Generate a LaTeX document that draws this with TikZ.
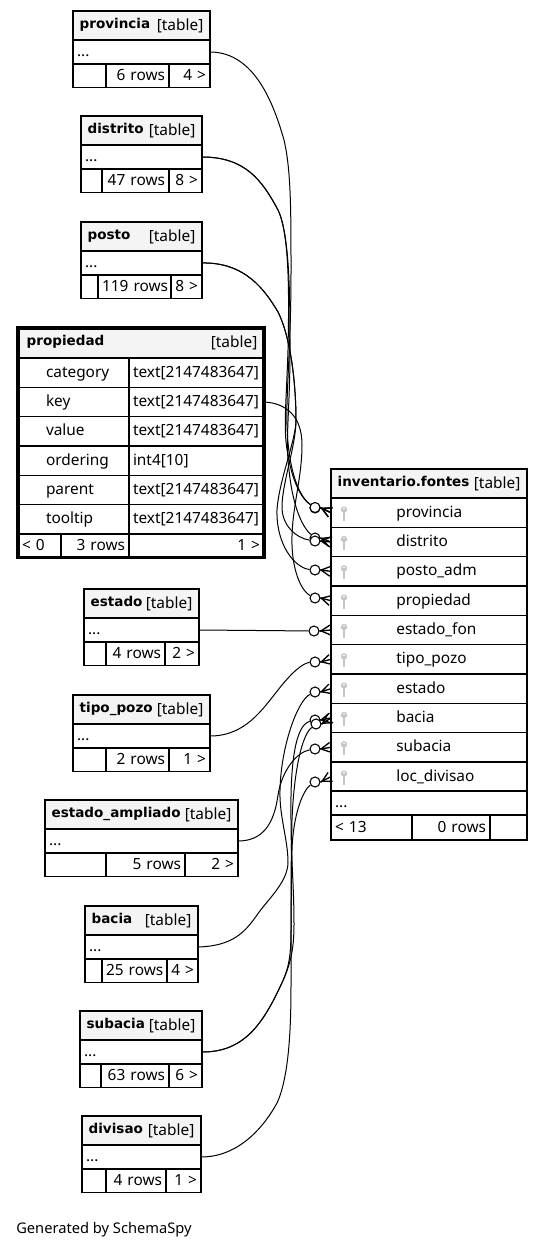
\documentclass[tikz,border=0pt]{standalone}
\usepackage{fontspec}
\setmainfont{Noto Sans}
\newfontfamily\titlefont{DejaVu Sans}
\usetikzlibrary{arrows.meta, positioning}
\definecolor{headfill}{HTML}{F4F4F4}
\definecolor{keygray}{HTML}{C6C6C6}

\begin{document}
\begin{tikzpicture}[
x=0.75pt, y=-0.75pt,
every node/.style={font=\fontsize{11.55}{13}\selectfont},
cell/.style={draw, line width=0.9pt, inner xsep=3pt, inner ysep=0pt, outer sep=0pt, text height=8.5pt, text depth=1.5pt, align=left},
rcell/.style={cell, align=right},
head/.style={cell, fill=headfill, inner xsep=5pt, minimum height=21.75pt},
row/.style={cell, minimum height=18pt},
field/.style={cell, minimum height=22pt},
foot/.style={cell, minimum height=17.75pt},
rfoot/.style={rcell, minimum height=17.75pt},
link/.style={line width=0.75pt},
crow/.style={line width=1pt, -{Straight Barb[reversed, length=7pt, width=7.5pt, line width=1pt]}},
odot/.style={circle, draw, line width=0.8pt, fill=white, inner sep=0pt, minimum size=7.5pt}
]

\useasboundingbox (0,0) rectangle (544,1248);

% small tables
\foreach \tb/\tname/\xa/\xb/\xc/\xd/\ya/\nrows/\nout in {
provincia/provincia/73/106/169/210/11/6/4,
distrito/distrito/81/102/169/202/116/47/8,
posto/posto/81/98/171/202/222/119/8,
estado/estado/84/106/165/199/589/4/2,
tipopozo/tipo\_pozo/73/106/169/210/695/2/1,
ampliado/estado\_ampliado/45/106/185/238/800/5/2,
bacia/bacia/85/102/167/198/906/25/4,
subacia/subacia/80/101/169/202/1011/63/6,
divisao/divisao/82/106/166/201/1116/4/1}
{
\pgfmathsetmacro\wh{(\xd-\xa)*0.75-10}
\pgfmathsetmacro\wr{(\xd-\xa)*0.75-6}
\pgfmathsetmacro\wa{(\xb-\xa)*0.75-6}
\pgfmathsetmacro\wb{(\xc-\xb)*0.75-6}
\pgfmathsetmacro\wc{(\xd-\xc)*0.75-6}
\node[head, text width=\wh pt, anchor=north west] (\tb) at (\xa,\ya)
{\raisebox{1.5pt}{\fontsize{10.15}{12}\titlefont\bfseries\tname}\hfill[table]};
\node[row, text width=\wr pt, below=0pt of \tb] (\tb-row) {...};
\node[foot, text width=\wa pt, anchor=north west] (\tb-a) at (\tb-row.south west) {};
\node[rfoot, text width=\wb pt, right=0pt of \tb-a] (\tb-b) {\mbox{\nrows{} rows}};
\node[rfoot, text width=\wc pt, right=0pt of \tb-b] (\tb-c) {\mbox{\nout{} >}};
}

% propiedad
\node[head, minimum height=22.5pt, text width=174.5pt, anchor=north west] (propiedad) at (18,328)
{\hspace*{1.5pt}\raisebox{1.5pt}{\fontsize{10.15}{12}\titlefont\bfseries propiedad}\hfill[table]};
\foreach \fld/\typ [count=\i] in {category/text[2147483647], key/text[2147483647], value/text[2147483647], ordering/int4[10], parent/text[2147483647], tooltip/text[2147483647]}
{
\node[field, text width=77.25pt, anchor=north west] (prop-\fld) at ({18},{358+(\i-1)*29.33}) {\hspace*{18pt}\fld};
\node[field, text width=95.25pt, right=0pt of prop-\fld] (type-\fld) {\typ};
}
\node[foot, text width=26.25pt, anchor=north west] (prop-a) at (prop-tooltip.south west) {< 0};
\node[rfoot, text width=45pt, right=0pt of prop-a] (prop-b) {3 rows};
\node[rfoot, text width=95.25pt, right=0pt of prop-b] (prop-c) {1 >};
\draw[line width=2.3pt] (propiedad.north west) rectangle (prop-c.south east);

% inventario.fontes
\node[head, text width=137pt, anchor=north west] (fontes) at (331,469)
{\raisebox{1.5pt}{\fontsize{10.15}{12}\titlefont\bfseries inventario.fontes}\hfill[table]};
\foreach \fld/\lab [count=\i] in {provincia/provincia, distrito/distrito, posto/posto\_adm, propiedad/propiedad, estadofon/estado\_fon, tipopozo/tipo\_pozo, estado/estado, bacia/bacia, subacia/subacia, divisao/loc\_divisao}
{
\node[field, text width=141pt, anchor=north west] (inv-\fld) at ({331},{498+(\i-1)*29.33}) {\hspace*{46pt}\lab};
\fill[keygray] ([xshift=9.75pt, yshift=2.25pt]inv-\fld.west) circle (2.4pt);
\fill[white] ([xshift=9.75pt, yshift=3pt]inv-\fld.west) circle (0.7pt);
\draw[keygray, line width=1.5pt] ([xshift=9.75pt, yshift=1pt]inv-\fld.west) -- ([xshift=9.75pt, yshift=-6pt]inv-\fld.west);
}
\node[row, text width=141pt, anchor=north west] (inv-row) at (331,791) {...};
\node[foot, text width=54.75pt, minimum height=18.75pt, anchor=north west] (inv-a) at (inv-row.south west) {< 13};
\node[rfoot, text width=52.5pt, minimum height=18.75pt, right=0pt of inv-a] (inv-b) {0 rows};
\node[foot, text width=21.75pt, minimum height=18.75pt, right=0pt of inv-b] (inv-c) {};

% circles
\node[odot] (o-prov) at (315,508) {};
\node[odot] (o-prov2) at (315,507.5) {};
\node[odot] (o-dist) at (315,538) {};
\node[odot] (o-dist2) at (315,541) {};
\node[odot] (o-posto) at (315,570) {};
\node[odot] (o-prop) at (315,598) {};
\node[odot] (o-estfon) at (314,631) {};
\node[odot] (o-tipo) at (315,662) {};
\node[odot] (o-est) at (315,692) {};
\node[odot] (o-bacia) at (315,720) {};
\node[odot] (o-bacia2) at (316,724) {};
\node[odot] (o-sub) at (315,749) {};
\node[odot] (o-div) at (315,782) {};

% links
\draw[link] (provincia-row.east) .. controls (255,52) and (274,105) .. (284,140) .. controls (291,170) and (291,210) .. (291,270) .. controls (291,350) and (286,390) .. (287,425) .. controls (288,465) and (297,495) .. (o-prov);
\draw[link] (distrito-row.east) .. controls (245,157) and (262,180) .. (278,210) .. controls (290,235) and (289,300) .. (288,350) .. controls (286,410) and (283,430) .. (288,455) .. controls (293,485) and (303,500) .. (o-prov2);
\draw[link] (distrito-row.east) .. controls (245,157) and (262,180) .. (278,210) .. controls (290,235) and (290,300) .. (290,350) .. controls (290,410) and (285,440) .. (289,470) .. controls (292,500) and (300,525) .. (o-dist);
\draw[link] (posto-row.east) .. controls (245,262) and (265,290) .. (278,312) .. controls (292,340) and (296,390) .. (296,420) .. controls (296,445) and (283,480) .. (282,505) .. controls (281,525) and (296,538) .. (o-dist2);
\draw[link] (posto-row.east) .. controls (245,262) and (265,290) .. (278,312) .. controls (292,340) and (296,390) .. (296,420) .. controls (296,440) and (279,480) .. (277,510) .. controls (276,545) and (295,568) .. (o-posto);
\draw[link] (type-key.east) .. controls (285,403) and (302,415) .. (302,445) .. controls (302,480) and (291,510) .. (292,545) .. controls (293,575) and (303,592) .. (o-prop);
\draw[link] (estado-row.east) -- (o-estfon);
\draw[link] (tipopozo-row.east) .. controls (245,736) and (262,710) .. (278,690) .. controls (292,672) and (303,663) .. (o-tipo);
\draw[link] (bacia-row.east) .. controls (233,946) and (245,932) .. (257,915) .. controls (268,899) and (288,882) .. (288,862) .. controls (288,840) and (279,815) .. (280,790) .. controls (281,745) and (298,700) .. (o-est);
\draw[link] (subacia-row.east) .. controls (240,1052) and (260,1030) .. (280,987) .. controls (290,967) and (294,950) .. (294,925) .. controls (294,885) and (291,860) .. (291,820) .. controls (290,760) and (296,725) .. (o-bacia);
\draw[link] (subacia-row.east) .. controls (240,1052) and (260,1030) .. (280,987) .. controls (288,970) and (291,960) .. (291,930) .. controls (291,890) and (291,860) .. (292,820) .. controls (294,770) and (302,735) .. (o-bacia2);
\draw[link] (ampliado-row.east) .. controls (262,841) and (274,825) .. (278,795) .. controls (282,770) and (297,752) .. (o-sub);
\draw[link] (divisao-row.east) .. controls (240,1157) and (265,1125) .. (277,1103) .. controls (290,1075) and (291,1020) .. (291,983) .. controls (291,930) and (291,900) .. (292,850) .. controls (293,815) and (303,790) .. (o-div);

% crow feet
\foreach \o/\r in {o-prov/provincia, o-prov2/provincia, o-dist/distrito, o-dist2/distrito, o-posto/posto, o-prop/propiedad, o-estfon/estadofon, o-tipo/tipopozo, o-est/estado, o-bacia/bacia, o-bacia2/bacia, o-sub/subacia, o-div/divisao}
{
\draw[line width=1pt] (\o.east) -- (inv-\r.west);
\draw[crow] (\o.east) -- (inv-\r.west);
}

\node[anchor=west, inner xsep=0pt, font=\fontsize{11}{13}\selectfont] (generated) at (16,1230) {Generated by SchemaSpy};

\end{tikzpicture}
\end{document}
